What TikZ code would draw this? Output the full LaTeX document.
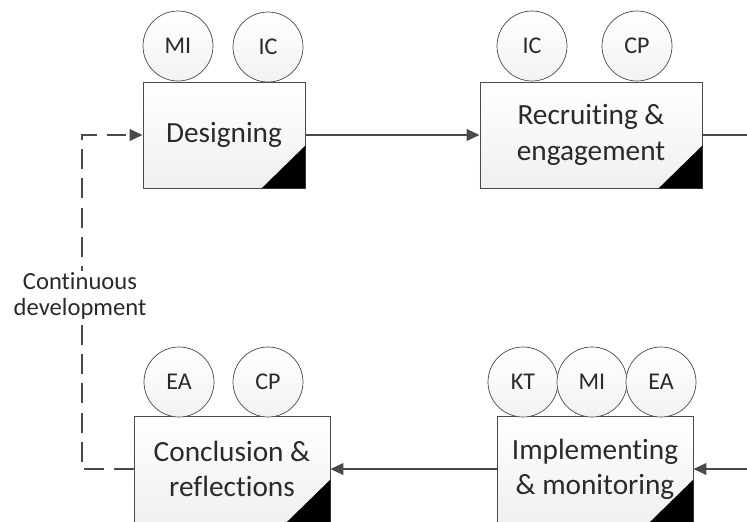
\documentclass[tikz,border=0pt]{standalone}
\usepackage{fontspec}
\setmainfont{Carlito}[Ligatures=NoCommon]
\usetikzlibrary{arrows.meta}

\definecolor{linegray}{HTML}{4A4A4A}
\definecolor{textgray}{HTML}{2A2A2A}

\begin{document}
\begin{tikzpicture}[x=0.03cm, y=-0.03cm,
    stage/.style={
        draw=linegray,
        line width=0.8pt,
        top color=white,
        bottom color=gray!12,
        minimum height=3.18cm,
        align=center,
        text=textgray,
        font=\fontsize{25}{30}\selectfont
    },
    tag/.style={
        circle,
        draw=linegray,
        line width=0.6pt,
        top color=white,
        bottom color=gray!10,
        minimum size=2.1cm,
        inner sep=0pt,
        text=textgray,
        font=\fontsize{20.5}{22}\selectfont
    },
    flow/.style={
        draw=linegray,
        line width=1.2pt,
        -{Triangle[length=11pt, width=10pt]}
    },
    loopback/.style={
        flow,
        dash pattern=on 17pt off 8pt
    }
]

\useasboundingbox (0,0) rectangle (747,521);
\clip (0,0) rectangle (747,521);

%%%%%%%%%%%%%%%%%%%%%%%%
% Top row
%%%%%%%%%%%%%%%%%%%%%%%%

% --- Stages ---
\node[stage, minimum width=4.86cm] (design) at (224,135) {Designing};
\node[stage, minimum width=6.66cm] (recruit) at (591,135) {Recruiting \&\\engagement};

% --- Tags ---
\node[tag] (designMI) at (178,46) {MI};
\node[tag] (designIC) at (268,47) {IC};
\node[tag] (recruitIC) at (532,46) {IC};
\node[tag] (recruitCP) at (637,46) {CP};

%%%%%%%%%%%%%%%%%%%%%%%%
% Bottom row
%%%%%%%%%%%%%%%%%%%%%%%%

% --- Stages ---
\node[stage, minimum width=5.88cm] (conclude) at (232,469) {Conclusion \&\\reflections};
\node[stage, minimum width=5.88cm] (implement) at (595,469) {Implementing\\\& monitoring};

% --- Tags ---
\node[tag] (concludeEA) at (179,382) {EA};
\node[tag] (concludeCP) at (268,382) {CP};
\node[tag] (implementKT) at (523,382) {KT};
\node[tag] (implementMI) at (592,382) {MI};
\node[tag] (implementEA) at (661,382) {EA};

% --- Corner marks ---
\foreach \s in {design, recruit, conclude, implement}
    \fill (\s.south east) -- ++(-44,0) -- ++(44,-43) -- cycle;

%%%%%%%%%%%%%%%%%%%%%%%%
% Flow
%%%%%%%%%%%%%%%%%%%%%%%%

\coordinate (outRight) at (747,135);
\coordinate (inRight) at (747,469);
\coordinate (bend) at (82,469);

\draw[flow] (design) -- (recruit);
\draw[flow, -] (recruit.east) -- (outRight);
\draw[flow] (inRight) -- (implement.east);
\draw[flow] (implement) -- (conclude);

% Loop back
\draw[loopback] (conclude.west) -- (bend) |- (design.west);
\node[fill=white, align=center, text=textgray, inner sep=1pt,
      font=\fontsize{21}{23}\selectfont] (contdev) at (80,296)
    {Continuous\\development};

\end{tikzpicture}
\end{document}
